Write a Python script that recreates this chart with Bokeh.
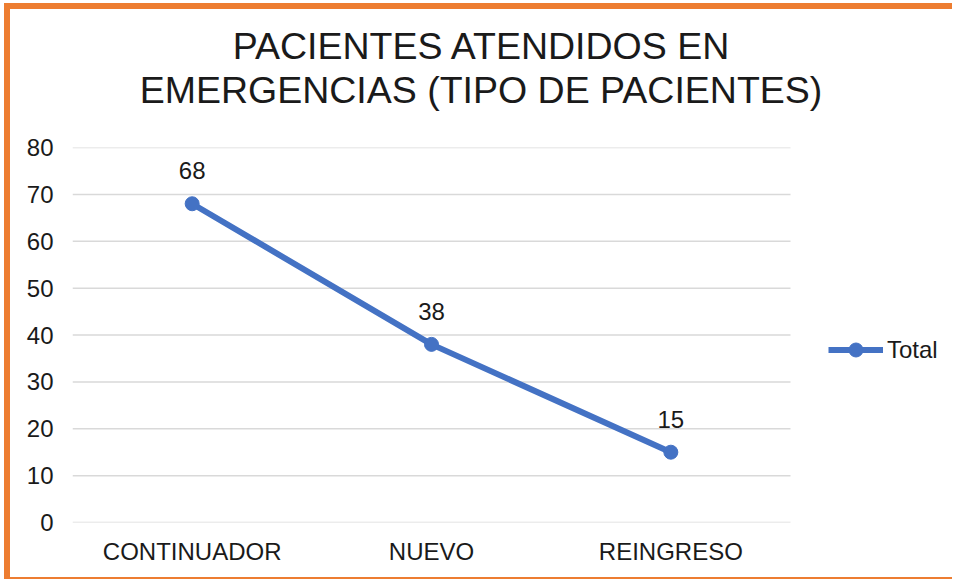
from bokeh.plotting import figure
from bokeh.models import ColumnDataSource, Legend, LegendItem, FixedTicker, Div
from bokeh.layouts import row, column
from bokeh.core.properties import value
from bokeh.embed import file_html
from bokeh.resources import INLINE

categories = ["CONTINUADOR", "NUEVO", "REINGRESO"]
totals = [68, 38, 15]
labels = [str(v) for v in totals]
y_ticks = [0, 10, 20, 30, 40, 50, 60, 70, 80]
title_line1 = "PACIENTES ATENDIDOS EN"
title_line2 = "EMERGENCIAS (TIPO DE PACIENTES)"
series_name = "Total"

FONT = "Liberation Sans"
BLUE = "#4472C4"
ORANGE = "#ED7D31"
GRID = "#d9d9d9"
TXT = "#1a1a1a"

xpos = [i + 0.5 for i in range(len(categories))]
source = ColumnDataSource(data=dict(x=xpos, val=totals, lab=labels))
grid_src = ColumnDataSource(data=dict(x0=[0] * len(y_ticks),
                                      x1=[len(categories)] * len(y_ticks),
                                      y=y_ticks))

W = 942
# frame spans 880 px; the categories take the first 718 px of it
x_end = len(categories) * 880 / 718

p = figure(title=None, x_range=(0, x_end), y_range=(0, 80), width=W, height=447,
           output_backend="svg", toolbar_location=None,
           min_border_left=62, min_border_right=0, min_border_top=17,
           min_border_bottom=55)
p.outline_line_color = None

p.segment("x0", "y", "x1", "y", source=grid_src, line_color=GRID, line_width=1.5)

line = p.line("x", "val", source=source, line_color=BLUE, line_width=6)
pts = p.scatter("x", "val", source=source, size=14, fill_color=BLUE, line_color=BLUE)
p.text("x", "val", text="lab", source=source, y_offset=-33, text_align="center",
       text_baseline="middle", text_font=value(FONT), text_font_size="24px",
       text_color=TXT)

legend = Legend(items=[LegendItem(label=series_name, renderers=[line, pts])],
                location=(756, 155), border_line_color=None, background_fill_alpha=0,
                padding=0, margin=0, glyph_width=55, glyph_height=35, label_height=35,
                label_standoff=4, label_text_font=FONT, label_text_font_size="24px",
                label_text_color=TXT)
p.add_layout(legend, "center")

p.yaxis.ticker = FixedTicker(ticks=y_ticks)
p.xaxis.ticker = FixedTicker(ticks=xpos)
p.xaxis.major_label_overrides = {x: c for x, c in zip(xpos, categories)}
for ax in (p.xaxis, p.yaxis):
    ax.major_tick_line_color = None
    ax.minor_tick_line_color = None
    ax.axis_line_color = None
    ax.major_label_text_font = FONT
    ax.major_label_text_font_size = "24px"
    ax.major_label_text_color = TXT
p.yaxis.major_label_standoff = 13
p.xaxis.major_label_standoff = 9

p.xgrid.grid_line_color = None
p.ygrid.grid_line_color = None

title_html = (
    f'<div style="width:{W - 20}px; padding-left:20px; padding-top:15px; '
    f'text-align:center; font-family:\'{FONT}\'; font-size:37.5px; '
    f'line-height:44px; color:{TXT};">{title_line1}<br>{title_line2}</div>'
)
title_div = Div(text=title_html, width=W, height=121, margin=0)

top_bar = Div(text="", width=W, height=6, margin=0,
              styles={"background-color": ORANGE})
bottom_bar = Div(text="", width=W, height=2, margin=0,
                 styles={"background-color": ORANGE})
left_bar = Div(text="", width=6, height=6 + 121 + 447 + 2, margin=0,
               styles={"background-color": ORANGE})
layout = row(left_bar, column(top_bar, title_div, p, bottom_bar, spacing=0),
             spacing=0, margin=(3, 0, 0, 4))

open("out.html", "w").write(file_html(layout, INLINE))
